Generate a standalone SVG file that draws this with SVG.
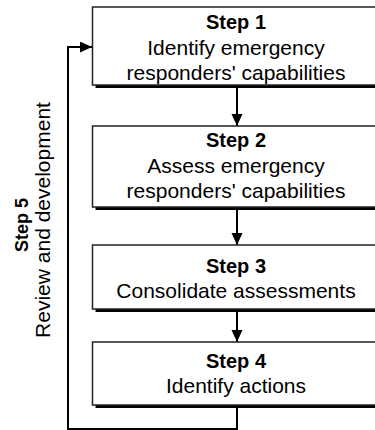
<svg xmlns="http://www.w3.org/2000/svg" width="375" height="430" viewBox="0 0 375 430">
<defs>
<marker id="ah" markerUnits="userSpaceOnUse" markerWidth="13" markerHeight="12" refX="12" refY="5.5" orient="auto">
<path d="M0,0 L12,5.5 L0,11 z" fill="#000"/>
</marker>
<style>
.shadow{fill:#000}
.box{fill:#fff;stroke:#222;stroke-width:1.5}
.t{font-family:"Liberation Sans",Arial,Helvetica,sans-serif;font-size:21px;fill:#000;text-anchor:middle}
.b{font-weight:bold;font-size:20px}
.c{fill:none;stroke:#000;stroke-width:2}
</style>
</defs>
<rect width="375" height="430" fill="#fff"/>
<g id="connectors">
<line class="c" x1="237" y1="88" x2="237" y2="126" marker-end="url(#ah)"/>
<line class="c" x1="237" y1="210" x2="237" y2="245" marker-end="url(#ah)"/>
<line class="c" x1="237" y1="312" x2="237" y2="342" marker-end="url(#ah)"/>
<polyline class="c" points="237,406 237,429 68,429 68,47 92,47" marker-end="url(#ah)"/>
</g>
<g id="step1">
<rect class="shadow" x="95.5" y="10" width="288" height="78"/>
<rect class="box" x="92.5" y="7" width="288" height="78"/>
<text class="t b" x="236" y="29">Step 1</text>
<text class="t" x="236" y="55">Identify emergency</text>
<text class="t" x="236" y="80">responders' capabilities</text>
</g>
<g id="step2">
<rect class="shadow" x="95.5" y="129" width="288" height="81"/>
<rect class="box" x="92.5" y="126" width="288" height="81"/>
<text class="t b" x="236" y="147">Step 2</text>
<text class="t" x="236" y="173">Assess emergency</text>
<text class="t" x="236" y="198">responders' capabilities</text>
</g>
<g id="step3">
<rect class="shadow" x="95.5" y="248" width="288" height="64"/>
<rect class="box" x="92.5" y="245" width="288" height="64"/>
<text class="t b" x="236" y="273">Step 3</text>
<text class="t" x="236" y="298">Consolidate assessments</text>
</g>
<g id="step4">
<rect class="shadow" x="95.5" y="345" width="288" height="63"/>
<rect class="box" x="92.5" y="342" width="288" height="63"/>
<text class="t b" x="236" y="368">Step 4</text>
<text class="t" x="236" y="393">Identify actions</text>
</g>
<g id="step5">
<text class="t b" transform="translate(27.5,225) rotate(-90)" style="font-size:18px">Step 5</text>
<text class="t" transform="translate(50,220) rotate(-90)">Review and development</text>
</g>
</svg>
